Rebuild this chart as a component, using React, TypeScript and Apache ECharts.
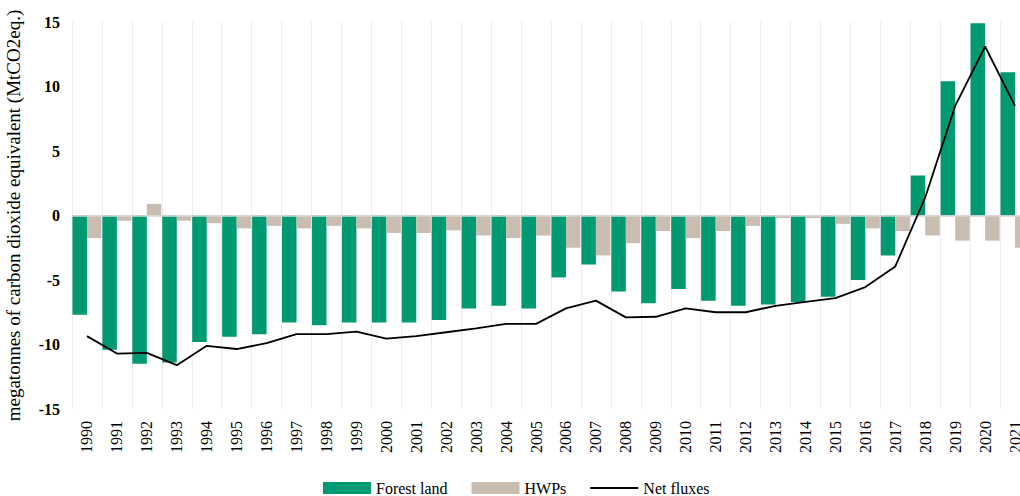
import React, { useEffect, useRef } from "react";
import * as echarts from "echarts";

const years = [
  "1990", "1991", "1992", "1993", "1994", "1995", "1996", "1997", "1998", "1999",
  "2000", "2001", "2002", "2003", "2004", "2005", "2006", "2007", "2008", "2009",
  "2010", "2011", "2012", "2013", "2014", "2015", "2016", "2017", "2018", "2019",
  "2020", "2021",
];

const forestLand = [
  -7.7, -10.4, -11.5, -11.4, -9.8, -9.4, -9.2, -8.3, -8.5, -8.3,
  -8.3, -8.3, -8.1, -7.2, -7.0, -7.2, -4.8, -3.8, -5.9, -6.8,
  -5.7, -6.6, -7.0, -6.9, -6.7, -6.3, -5.0, -3.1, 3.1, 10.4,
  14.9, 11.1,
];

const hwps = [
  -1.75, -0.4, 0.9, -0.4, -0.6, -1.0, -0.8, -1.0, -0.8, -1.0,
  -1.35, -1.35, -1.15, -1.55, -1.75, -1.55, -2.5, -3.1, -2.15, -1.2,
  -1.75, -1.2, -0.8, -0.2, -0.2, -0.65, -1.0, -1.2, -1.55, -1.95,
  -1.95, -2.5,
];

const netFluxes = [
  -9.35, -10.7, -10.65, -11.6, -10.1, -10.35, -9.9, -9.2, -9.2, -9.0,
  -9.55, -9.35, -9.05, -8.75, -8.4, -8.4, -7.2, -6.6, -7.9, -7.85,
  -7.2, -7.5, -7.5, -7.0, -6.7, -6.4, -5.55, -3.95, 1.4, 8.5,
  13.1, 8.5,
];

const yTicks = { min: -15, max: 15, interval: 5 };
const yAxisTitle = "megatonnes of carbon dioxide equivalent (MtCO2eq.)";

const FONT = "'Liberation Serif', 'Times New Roman', serif";

export default function App() {
  const ref = useRef<HTMLDivElement>(null);

  useEffect(() => {
    if (!ref.current) return;
    const chart = echarts.init(ref.current, null, { renderer: "svg" });
    chart.setOption({
      animation: false,
      backgroundColor: "#ffffff",
      textStyle: { fontFamily: FONT, color: "#000" },
      grid: {
        left: 72,
        width: 958,
        top: 22,
        height: 387,
        containLabel: false,
        outerBoundsMode: "none",
      },
      legend: {
        left: 323,
        top: 480,
        padding: 0,
        itemWidth: 48,
        itemHeight: 12,
        itemGap: 24,
        textStyle: { fontFamily: FONT, fontSize: 16, color: "#000" },
        data: [
          { name: "Forest land", icon: "rect" },
          { name: "HWPs", icon: "rect" },
          { name: "Net fluxes", icon: "path://M0,0H48V2H0Z" },
        ],
      },
      xAxis: {
        type: "category",
        data: years,
        position: "bottom",
        axisLine: { show: false },
        axisTick: { show: false },
        axisLabel: {
          rotate: 90,
          margin: 12,
          fontFamily: FONT,
          fontSize: 16,
          color: "#000",
        },
        splitLine: { show: true, lineStyle: { color: "#ececec", width: 1 } },
      },
      yAxis: {
        type: "value",
        min: yTicks.min,
        max: yTicks.max,
        interval: yTicks.interval,
        axisLine: { show: false },
        axisTick: { show: false },
        splitLine: { show: false },
        axisLabel: {
          margin: 12,
          fontFamily: FONT,
          fontSize: 16,
          fontWeight: "bold",
          color: "#000",
        },
        name: yAxisTitle,
        nameLocation: "middle",
        nameGap: 49,
        nameTextStyle: { fontFamily: FONT, fontSize: 19, color: "#000" },
      },
      series: [
        {
          name: "Forest land",
          type: "bar",
          data: forestLand,
          barGap: "0%",
          barCategoryGap: "3%",
          itemStyle: { color: "#009a72" },
          markLine: {
            silent: true,
            symbol: "none",
            label: { show: false },
            lineStyle: { color: "#d6d6d6", type: "solid", width: 1.5 },
            data: [{ yAxis: 0 }],
          },
        },
        {
          name: "HWPs",
          type: "bar",
          data: hwps,
          itemStyle: { color: "#c9bcb1" },
        },
        {
          name: "Net fluxes",
          type: "line",
          data: netFluxes,
          symbol: "none",
          lineStyle: { color: "#000", width: 1.8 },
          itemStyle: { color: "#000" },
          z: 5,
        },
      ],
    });
    return () => chart.dispose();
  }, []);

  return (
    <div
      ref={ref}
      style={{ position: "absolute", left: 0, top: 0, width: 1020, height: 496 }}
    />
  );
}
